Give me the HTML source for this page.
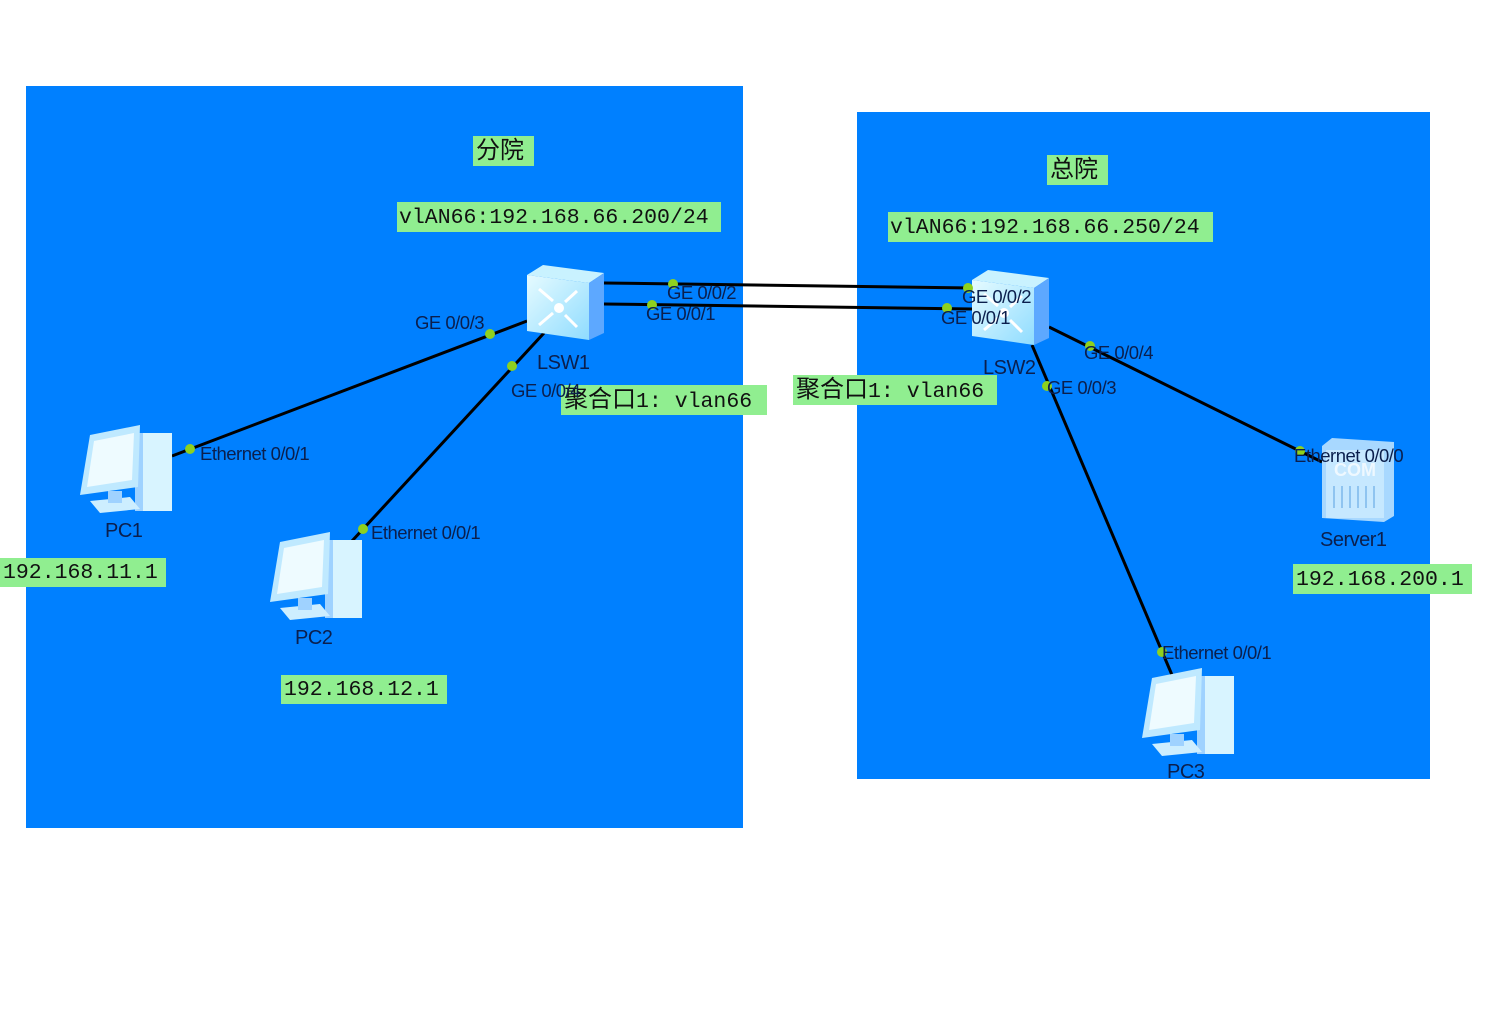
<!DOCTYPE html>
<html><head><meta charset="utf-8"><style>
html,body{margin:0;padding:0;background:#fff;width:1506px;height:1009px;overflow:hidden}
svg{display:block}
.t{font-family:"Liberation Sans",sans-serif;font-size:18.5px;fill:#0b1f4d;letter-spacing:-0.5px}
.m{font-family:"Liberation Mono","Noto Sans CJK SC",monospace;font-size:21.5px;fill:#111}
.c{font-family:"Liberation Sans","Noto Sans CJK SC",sans-serif;font-size:24px;fill:#111}
</style></head><body>
<svg width="1506" height="1009" viewBox="0 0 1506 1009" xmlns="http://www.w3.org/2000/svg">
<defs>
<linearGradient id="sw" x1="0" y1="0" x2="1" y2="1"><stop offset="0" stop-color="#e6fbff"/><stop offset="1" stop-color="#8fdcff"/></linearGradient>
</defs>
<rect x="26" y="86" width="717" height="742" fill="#0080ff"/>
<rect x="857" y="112" width="573" height="667" fill="#0080ff"/>

<g stroke="#000" stroke-width="3" fill="none">
<line x1="604" y1="283" x2="972" y2="288"/>
<line x1="604" y1="304" x2="972" y2="309"/>
<line x1="527" y1="321" x2="172" y2="456"/>
<line x1="544" y1="333" x2="352" y2="541"/>
<line x1="1049" y1="327" x2="1322" y2="462"/>
<line x1="1032" y1="345" x2="1172" y2="675"/>
</g>

<g fill="#90ee90">
<rect x="473" y="136" width="61" height="30"/>
<rect x="397" y="202" width="324" height="30"/>
<rect x="561" y="385" width="206" height="30"/>
<rect x="1047" y="155" width="61" height="30"/>
<rect x="888" y="212" width="325" height="30"/>
<rect x="793" y="375" width="204" height="30"/>
<rect x="0" y="558" width="166" height="29"/>
<rect x="281" y="675" width="166" height="29"/>
<rect x="1293" y="564" width="179" height="30"/>
</g>
<text class="c" x="476" y="158">分院</text>
<text class="m" x="399" y="223">vlAN66:192.168.66.200/24</text>
<text class="m" x="564" y="407"><tspan style="font-size:24px">聚合口</tspan>1: vlan66</text>
<text class="c" x="1050" y="177">总院</text>
<text class="m" x="890" y="233">vlAN66:192.168.66.250/24</text>
<text class="m" x="796" y="397"><tspan style="font-size:24px">聚合口</tspan>1: vlan66</text>
<text class="m" x="3" y="578">192.168.11.1</text>
<text class="m" x="284" y="695">192.168.12.1</text>
<text class="m" x="1296" y="585">192.168.200.1</text>

<g transform="translate(527,265)">
<polygon points="0,10 16,0 77,8 62,18" fill="#c9f2ff"/>
<polygon points="62,18 77,8 77,68 62,75" fill="#5da8ff"/>
<polygon points="0,10 62,18 62,75 0,66" fill="url(#sw)"/>
<g stroke="#fff" stroke-width="3"><line x1="12" y1="24" x2="26" y2="36"/><line x1="50" y1="26" x2="38" y2="37"/><line x1="12" y1="60" x2="26" y2="48"/><line x1="50" y1="62" x2="38" y2="50"/></g>
<circle cx="32" cy="43" r="5" fill="#fff"/>
</g>
<g transform="translate(972,270)">
<polygon points="0,10 16,0 77,8 62,18" fill="#c9f2ff"/>
<polygon points="62,18 77,8 77,68 62,75" fill="#5da8ff"/>
<polygon points="0,10 62,18 62,75 0,66" fill="url(#sw)"/>
<g stroke="#fff" stroke-width="3"><line x1="12" y1="24" x2="26" y2="36"/><line x1="50" y1="26" x2="38" y2="37"/><line x1="12" y1="60" x2="26" y2="48"/><line x1="50" y1="62" x2="38" y2="50"/></g>
<circle cx="32" cy="43" r="5" fill="#fff"/>
</g>

<g transform="translate(80,425)">
<rect x="55" y="8" width="37" height="78" fill="#d8f4ff"/><rect x="55" y="8" width="8" height="78" fill="#9fd2ff"/>
<polygon points="10,10 60,0 58,62 0,70" fill="#bfe9ff"/><polygon points="14,16 54,8 52,55 7,62" fill="#eefbff"/>
<polygon points="10,76 50,72 60,84 20,88" fill="#cdeeff"/><rect x="28" y="66" width="14" height="12" fill="#9fd2ff"/>
</g>
<g transform="translate(270,532)">
<rect x="55" y="8" width="37" height="78" fill="#d8f4ff"/><rect x="55" y="8" width="8" height="78" fill="#9fd2ff"/>
<polygon points="10,10 60,0 58,62 0,70" fill="#bfe9ff"/><polygon points="14,16 54,8 52,55 7,62" fill="#eefbff"/>
<polygon points="10,76 50,72 60,84 20,88" fill="#cdeeff"/><rect x="28" y="66" width="14" height="12" fill="#9fd2ff"/>
</g>
<g transform="translate(1142,668)">
<rect x="55" y="8" width="37" height="78" fill="#d8f4ff"/><rect x="55" y="8" width="8" height="78" fill="#9fd2ff"/>
<polygon points="10,10 60,0 58,62 0,70" fill="#bfe9ff"/><polygon points="14,16 54,8 52,55 7,62" fill="#eefbff"/>
<polygon points="10,76 50,72 60,84 20,88" fill="#cdeeff"/><rect x="28" y="66" width="14" height="12" fill="#9fd2ff"/>
</g>
<g transform="translate(1322,438)">
<polygon points="0,8 10,0 72,4 72,78 62,84 0,80" fill="#a8d8ff"/>
<rect x="4" y="12" width="58" height="68" fill="#c6e8ff"/>
<text x="12" y="38" font-family="Liberation Sans" font-weight="bold" font-size="18" fill="#eef8ff">COM</text>
<g stroke="#8fc4f0" stroke-width="2"><line x1="12" y1="48" x2="12" y2="70"/><line x1="20" y1="48" x2="20" y2="70"/><line x1="28" y1="48" x2="28" y2="70"/><line x1="36" y1="48" x2="36" y2="70"/><line x1="44" y1="48" x2="44" y2="70"/><line x1="52" y1="48" x2="52" y2="70"/></g>
</g>

<g fill="#8ed11f">
<circle cx="673" cy="284" r="5"/><circle cx="652" cy="305" r="5"/>
<circle cx="968" cy="288" r="5"/><circle cx="947" cy="308" r="5"/>
<circle cx="490" cy="334" r="5"/><circle cx="512" cy="366" r="5"/>
<circle cx="190" cy="449" r="5"/><circle cx="363" cy="529" r="5"/>
<circle cx="1090" cy="346" r="5"/><circle cx="1047" cy="386" r="5"/>
<circle cx="1300" cy="451" r="5"/><circle cx="1162" cy="652" r="5"/>
</g>

<text class="t" x="667" y="299">GE 0/0/2</text>
<text class="t" x="646" y="320">GE 0/0/1</text>
<text class="t" x="962" y="303">GE 0/0/2</text>
<text class="t" x="941" y="324">GE 0/0/1</text>
<text class="t" x="415" y="329">GE 0/0/3</text>
<text class="t" x="511" y="397">GE 0/0/4</text>
<text class="t" x="200" y="460">Ethernet 0/0/1</text>
<text class="t" x="371" y="539">Ethernet 0/0/1</text>
<text class="t" x="1084" y="359">GE 0/0/4</text>
<text class="t" x="1047" y="394">GE 0/0/3</text>
<text class="t" x="1294" y="462">Ethernet 0/0/0</text>
<text class="t" x="1162" y="659">Ethernet 0/0/1</text>
<text class="t" x="537" y="369" style="font-size:20px">LSW1</text>
<text class="t" x="983" y="374" style="font-size:20px">LSW2</text>
<text class="t" x="105" y="537" style="font-size:20px">PC1</text>
<text class="t" x="295" y="644" style="font-size:20px">PC2</text>
<text class="t" x="1167" y="778" style="font-size:20px">PC3</text>
<text class="t" x="1320" y="546" style="font-size:20px">Server1</text>
</svg>
</body></html>
